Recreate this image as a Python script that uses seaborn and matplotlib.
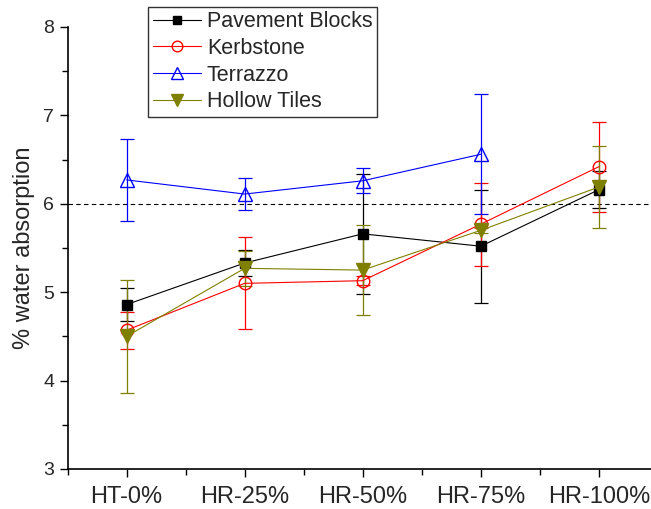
import matplotlib
matplotlib.use('Agg')
import matplotlib.pyplot as plt
from matplotlib.lines import Line2D
from matplotlib.ticker import MultipleLocator
import seaborn as sns
import pandas as pd

# mix labels on the x axis
mixes = ['HT-0%', 'HR-25%', 'HR-50%', 'HR-75%', 'HR-100%']

# mean water absorption (%) and error
pavement = [4.86, 5.33, 5.66, 5.52, 6.16]
pavement_err = [0.19, 0.15, 0.68, 0.64, 0.21]
kerbstone = [4.57, 5.10, 5.13, 5.77, 6.42]
kerbstone_err = [0.21, 0.52, 0.05, 0.47, 0.51]
terrazzo = [6.27, 6.11, 6.26, 6.56]          # no HR-100% point
terrazzo_err = [0.46, 0.18, 0.14, 0.68]
hollow = [4.50, 5.27, 5.25, 5.70, 6.19]
hollow_err = [0.64, 0.20, 0.51, 0.03, 0.46]

limit = 6.0

series = [
    ('Pavement Blocks', pavement, pavement_err, 'black', 's', 'black', 7.5),
    ('Kerbstone', kerbstone, kerbstone_err, 'red', 'o', 'none', 9),
    ('Terrazzo', terrazzo, terrazzo_err, 'blue', '^', 'none', 9.5),
    ('Hollow Tiles', hollow, hollow_err, '#808000', 'v', '#808000', 10),
]

rows = []
for name, vals, errs, *_ in series:
    for i, (v, e) in enumerate(zip(vals, errs)):
        rows.append({'mix': i, 'series': name, 'value': v, 'err': e})
df = pd.DataFrame(rows)

sns.set_style('ticks')
plt.rcParams['font.family'] = ['Liberation Sans', 'DejaVu Sans']

fig = plt.figure(figsize=(6.51, 5.09), dpi=100)
ax = fig.add_axes([0.1037, 0.0786, 0.907, 0.8684])

handles = []
for name, vals, errs, color, marker, face, ms in series:
    d = df[df['series'] == name]
    ax.errorbar(d['mix'], d['value'], yerr=d['err'], fmt='none',
                ecolor=color, elinewidth=0.9, capsize=5, capthick=0.9, zorder=2)
    sns.lineplot(data=d, x='mix', y='value', ax=ax, color=color, linewidth=0.8,
                 marker=marker, markersize=ms, markerfacecolor=face,
                 markeredgecolor=color, markeredgewidth=1.0, zorder=3,
                 legend=False, errorbar=None)
    handles.append(Line2D([], [], color=color, linewidth=0.8, marker=marker,
                          markersize=ms * 0.85, markerfacecolor=face,
                          markeredgecolor=color, label=name))

ax.axhline(limit, color='black', linestyle=(0, (4, 3)), linewidth=0.8, zorder=1)

ax.set_xlim(-0.5, 4.5)
ax.set_ylim(3, 8)
ax.set_xticks(range(len(mixes)))
ax.set_xticklabels(mixes, fontsize=17)
ax.xaxis.set_minor_locator(MultipleLocator(0.5))
ax.yaxis.set_major_locator(MultipleLocator(1))
ax.yaxis.set_minor_locator(MultipleLocator(0.5))
ax.tick_params(axis='y', labelsize=14)
ax.tick_params(axis='x', pad=6)
ax.tick_params(which='major', direction='out', length=6, width=1, color='black')
ax.tick_params(which='minor', direction='out', length=4, width=1, color='black')
ax.set_xlabel('')
ax.set_ylabel('% water absorption', fontsize=17, labelpad=6)

sns.despine(ax=ax, top=True, right=True)
for sp in ['left', 'bottom']:
    ax.spines[sp].set_color('black')
    ax.spines[sp].set_linewidth(1.2)

leg = fig.legend(handles=handles, loc='upper left', bbox_to_anchor=(0.228, 0.987),
                 fontsize=15.5, frameon=True, fancybox=False, handlelength=2.2,
                 handletextpad=0.3, labelspacing=0.26, borderpad=0.22,
                 borderaxespad=0.0)
leg.get_frame().set_edgecolor('black')
leg.get_frame().set_linewidth(1.0)

fig.savefig('out.png', dpi=100)
